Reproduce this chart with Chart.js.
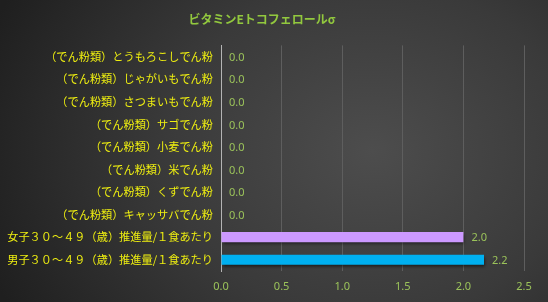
<!DOCTYPE html>
<html>
<head>
<meta charset="utf-8">
<script src="https://cdn.jsdelivr.net/npm/chart.js@4/dist/chart.umd.min.js"></script>
<style>
  html, body { margin: 0; padding: 0; }
  body {
    width: 548px; height: 302px; overflow: hidden;
    background: radial-gradient(ellipse 75% 110% at 68% 50%, #4d4d4d 0%, #3a3a3a 50%, #1f1f1f 100%);
  }
  #wrap { position: relative; width: 548px; height: 302px; }
</style>
</head>
<body>
<div id="wrap"><canvas id="chart" width="548" height="302"></canvas></div>
<script>
const title = 'ビタミンEトコフェロールσ'

const categories = [
  '（でん粉類）とうもろこしでん粉',
  '（でん粉類）じゃがいもでん粉',
  '（でん粉類）さつまいもでん粉',
  '（でん粉類）サゴでん粉',
  '（でん粉類）小麦でん粉',
  '（でん粉類）米でん粉',
  '（でん粉類）くずでん粉',
  '（でん粉類）キャッサバでん粉',
  '女子３０～４９（歳）推進量/１食あたり',
  '男子３０～４９（歳）推進量/１食あたり'
]

const values = [0, 0, 0, 0, 0, 0, 0, 0, 2.0, 2.17]

const barColors = ['#8c8c8c', '#8c8c8c', '#8c8c8c', '#8c8c8c', '#8c8c8c',
  '#8c8c8c', '#8c8c8c', '#8c8c8c', '#cc99ff', '#00b0f0']

const xTicks = [0, 0.5, 1.0, 1.5, 2.0, 2.5]

const green = '#9bc35a'
const yellow = '#eeee10'

// value labels at the end of each bar
const valueLabels = {
  id: 'valueLabels',
  afterDatasetsDraw(chart) {
    const ctx = chart.ctx
    const meta = chart.getDatasetMeta(0)
    ctx.save()
    ctx.font = '11px "Noto Sans", "DejaVu Sans", sans-serif'
    ctx.fillStyle = green
    ctx.textAlign = 'left'
    ctx.textBaseline = 'middle'
    meta.data.forEach((bar, i) => {
      ctx.fillText(values[i].toFixed(1), bar.x + 8, bar.y + 1)
    })
    ctx.restore()
  }
}

// soft shadow under bars
const barShadow = {
  id: 'barShadow',
  beforeDatasetsDraw(chart) {
    chart.ctx.save()
    chart.ctx.shadowColor = 'rgba(0,0,0,0.6)'
    chart.ctx.shadowOffsetX = 1
    chart.ctx.shadowOffsetY = 2
    chart.ctx.shadowBlur = 3
  },
  afterDatasetsDraw(chart) {
    chart.ctx.restore()
  }
}

new Chart(document.getElementById('chart'), {
  type: 'bar',
  data: {
    labels: categories,
    datasets: [{
      data: values,
      backgroundColor: barColors,
      borderWidth: 0,
      barPercentage: 0.9,
      categoryPercentage: 0.5
    }]
  },
  options: {
    indexAxis: 'y',
    responsive: false,
    animation: false,
    layout: { padding: { left: 0, right: 24, bottom: 0, top: 0 } },
    plugins: {
      legend: { display: false },
      tooltip: { enabled: false },
      title: {
        display: true,
        text: title,
        color: '#92c83e',
        font: { family: '"Noto Sans CJK JP", sans-serif', size: 12, weight: 'bold' },
        padding: { top: 12, bottom: 19 }
      }
    },
    scales: {
      x: {
        min: 0,
        max: 2.5,
        afterBuildTicks(scale) { scale.ticks = xTicks.map(v => ({ value: v })) },
        afterFit(scale) { scale.height = 31 },
        grid: { color: '#5e5e5e', drawTicks: false },
        border: { display: false },
        ticks: {
          color: green,
          padding: 9,
          font: { family: '"Noto Sans", sans-serif', size: 11 },
          callback: v => v.toFixed(1)
        }
      },
      y: {
        afterFit(scale) { scale.width = 221 },
        grid: { display: false, drawTicks: false },
        border: { display: true, color: '#b4b4b4', width: 1 },
        ticks: {
          color: yellow,
          padding: 8,
          autoSkip: false,
          font: { family: '"Noto Sans CJK JP", sans-serif', size: 11.2 }
        }
      }
    }
  },
  plugins: [barShadow, valueLabels]
})
</script>
</body>
</html>
